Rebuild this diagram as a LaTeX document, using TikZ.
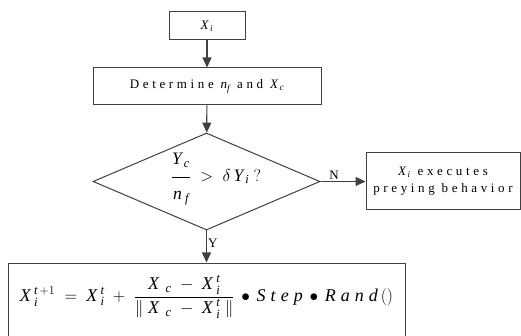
\documentclass[tikz,border=0pt]{standalone}
\usepackage{amsmath}
\usepackage{fontspec}
\setmainfont{Liberation Serif}
\newfontfamily\spaced[LetterSpace=28]{Liberation Serif}
\usetikzlibrary{arrows.meta,shapes.geometric}
\newcommand{\vi}[1]{\textit{#1}}
\newcommand{\vs}[1]{\textit{\spaced #1}}
\tikzset{
  box/.style={draw=black!75, line width=1pt, inner sep=0pt, fill=white},
  txt/.style={font=\fontsize{13}{15}\selectfont\spaced, align=center},
  arr/.style={draw=black!75, line width=1.2pt, -{Triangle[length=10pt,width=9pt]}},
  lab/.style={font=\fontsize{13}{15}\selectfont, inner sep=1pt}
}
\begin{document}
\begin{tikzpicture}[x=1pt,y=-1pt]
\useasboundingbox (0,0) rectangle (521,336);
\node[box, txt, minimum width=76pt, minimum height=28pt] (xi) at (207,26) {$\vi{X}_{\,\vi{i}}$};
\node[box, txt, minimum width=228pt, minimum height=37pt] (det) at (207,86.5) {Determine $\vi{n}_{\vi{f}}$ and $\vi{X}_{\,\vi{c}}$};
\node[box, diamond, minimum width=227pt, minimum height=97pt, aspect=2.34] (dec) at (206.5,181.5) {};
\node[font=\fontsize{17.5}{20}\selectfont] (dect) at (216,179) {$\dfrac{\vi{Y}_{\,\vi{c}}\rule[-10pt]{0pt}{10pt}}{\rule{0pt}{20pt}\vi{n}_{\;\vi{f}}}\ > \ \delta\, \vi{Y}_{\,\vi{i}}\ ?$};
\node[box, txt, minimum width=154pt, minimum height=57pt] (prey) at (443,181.5) {$\vi{X}_{\,\vi{i}}$ executes\\[2pt]preying behavior};
\node[box, minimum width=397pt, minimum height=84pt] (upd) at (206.5,305) {};
\node[font=\fontsize{18}{20}\selectfont] (updt) at (206.5,297) {$\vi{X}_{\;\vi{i}}^{\;\vi{t}\,+1}\ =\ \vi{X}_{\;\vi{i}}^{\;\vi{t}}\ +\ \dfrac{\vi{X}_{\;\;\vi{c}}\ -\ \vi{X}_{\;\vi{i}}^{\;\vi{t}}}{\|\ \vi{X}_{\;\;\vi{c}}\ -\ \vi{X}_{\;\vi{i}}^{\;\vi{t}}\ \|}\,\bullet\,\vs{Step}\,\bullet\,\vs{Rand}\,()$};
\draw[arr] (xi) -- (det);
\draw[arr] (det) -- (dec);
\draw[arr] (dec.east) -- node[lab, above, pos=0.3] {N} (prey.west);
\draw[arr] (dec.south) -- node[lab, right, pos=0.4] {Y} (upd.north);
\end{tikzpicture}
\end{document}
